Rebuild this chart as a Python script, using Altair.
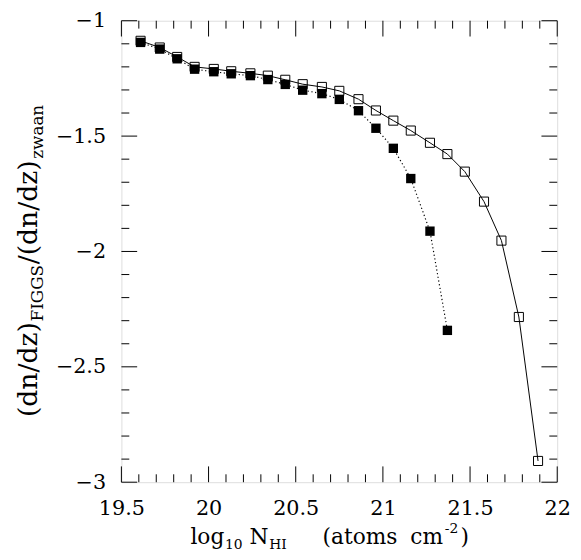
import altair as alt
import pandas as pd

FONT = "DejaVu Serif"

# log10 N_HI bins
x_vals = [19.61, 19.72, 19.82, 19.92, 20.03, 20.13, 20.24, 20.34, 20.44, 20.54,
          20.65, 20.75, 20.86, 20.96, 21.06, 21.16, 21.27, 21.37, 21.47, 21.58,
          21.68, 21.78, 21.89]
# open squares (solid line)
open_y = [-1.087, -1.116, -1.157, -1.200, -1.209, -1.219, -1.228, -1.238, -1.256,
          -1.275, -1.287, -1.304, -1.340, -1.389, -1.433, -1.476, -1.529, -1.578,
          -1.654, -1.784, -1.953, -2.284, -2.908]
# filled squares (dotted line)
filled_y = [-1.094, -1.123, -1.165, -1.210, -1.221, -1.230, -1.238, -1.255, -1.276,
            -1.301, -1.316, -1.341, -1.390, -1.466, -1.553, -1.684, -1.912, -2.342]

x_major = [19.5, 20.0, 20.5, 21.0, 21.5, 22.0]
x_minor = [19.6, 19.7, 19.8, 19.9, 20.1, 20.2, 20.3, 20.4, 20.6, 20.7, 20.8, 20.9,
           21.1, 21.2, 21.3, 21.4, 21.6, 21.7, 21.8, 21.9]
y_major = [-3.0, -2.5, -2.0, -1.5, -1.0]
y_minor = [-2.9, -2.8, -2.7, -2.6, -2.4, -2.3, -2.2, -2.1, -1.9, -1.8, -1.7, -1.6,
           -1.4, -1.3, -1.2, -1.1]

W, H = 442, 468
MAJ, MIN = 16, 8

xs = alt.Scale(domain=[19.5, 22], nice=False, zero=False)
ys = alt.Scale(domain=[-3, -1], nice=False, zero=False)

open_df = pd.DataFrame({"x": x_vals, "y": open_y})
fill_df = pd.DataFrame({"x": x_vals[:len(filled_y)], "y": filled_y})

xaxis = alt.Axis(values=x_major, format=".1~f", ticks=False, tickSize=0, domain=False,
                 grid=False, labelFont=FONT, labelFontSize=21, labelColor="black",
                 labelPadding=16, labelFlush=False, labelOverlap=False, title=None)
yaxis = alt.Axis(values=y_major, format=".1~f", ticks=False, tickSize=0, domain=False,
                 grid=False, labelFont=FONT, labelFontSize=21, labelColor="black",
                 labelPadding=16, labelFlush=False, labelOverlap=False, title=None)

X = alt.X("x:Q", scale=xs, axis=xaxis)
Y = alt.Y("y:Q", scale=ys, axis=yaxis)

open_line = alt.Chart(open_df).mark_line(color="black", strokeWidth=1).encode(x=X, y=Y)
open_pts = alt.Chart(open_df).mark_point(shape="square", size=85, filled=False,
                                         stroke="black", strokeWidth=1,
                                         opacity=1).encode(x=X, y=Y)
fill_line = alt.Chart(fill_df).mark_line(color="black", strokeWidth=1.2,
                                         strokeDash=[1.2, 2.6]).encode(x=X, y=Y)
fill_pts = alt.Chart(fill_df).mark_point(shape="square", size=90, filled=True,
                                         color="black", opacity=1).encode(x=X, y=Y)


def xticks(vals, length):
    df = pd.DataFrame({"x": vals})
    bot = alt.Chart(df).mark_rule(color="black", strokeWidth=1).encode(
        x=X, y=alt.value(H), y2=alt.value(H - length))
    top = alt.Chart(df).mark_rule(color="black", strokeWidth=1).encode(
        x=X, y=alt.value(0), y2=alt.value(length))
    return [bot, top]


def yticks(vals, length):
    df = pd.DataFrame({"y": vals})
    left = alt.Chart(df).mark_rule(color="black", strokeWidth=1).encode(
        y=Y, x=alt.value(0), x2=alt.value(length))
    right = alt.Chart(df).mark_rule(color="black", strokeWidth=1).encode(
        y=Y, x=alt.value(W), x2=alt.value(W - length))
    return [left, right]


dummy = pd.DataFrame({"d": [0]})


def txt(s, x, y, size, angle=0):
    return alt.Chart(dummy).mark_text(text=s, font=FONT, fontSize=size, align="left",
                                      baseline="alphabetic", angle=angle,
                                      color="black").encode(x=alt.value(x), y=alt.value(y))


TB = 531  # x-title baseline
titles = [
    txt("log", 70, TB, 22),
    txt("10", 105, TB + 5, 14),
    txt("N", 130, TB, 22),
    txt("HI", 150, TB + 5, 14),
    txt("(atoms", 204, TB, 22),
    txt("cm", 293, TB, 22),
    txt("-2", 328, TB - 11, 14),
    txt(")", 344, TB, 22),
    txt("(dn/dz)", -86, 402, 27, 270),
    txt("FIGGS", -80, 305, 17, 270),
    txt("/(dn/dz)", -86, 247, 27, 270),
    txt("zwaan", -80, 140, 17, 270),
]

layers = (xticks(x_major, MAJ) + xticks(x_minor, MIN) + yticks(y_major, MAJ)
          + yticks(y_minor, MIN) + [open_line, open_pts, fill_line, fill_pts] + titles)

chart = alt.layer(*layers).properties(
    width=W, height=H, autosize="none",
    padding={"left": 115, "top": 9, "right": 16, "bottom": 75},
).configure_view(stroke="black", strokeWidth=1.2).configure(background="white")

chart.save("out.html", embed_options={"renderer": "svg", "actions": False})
